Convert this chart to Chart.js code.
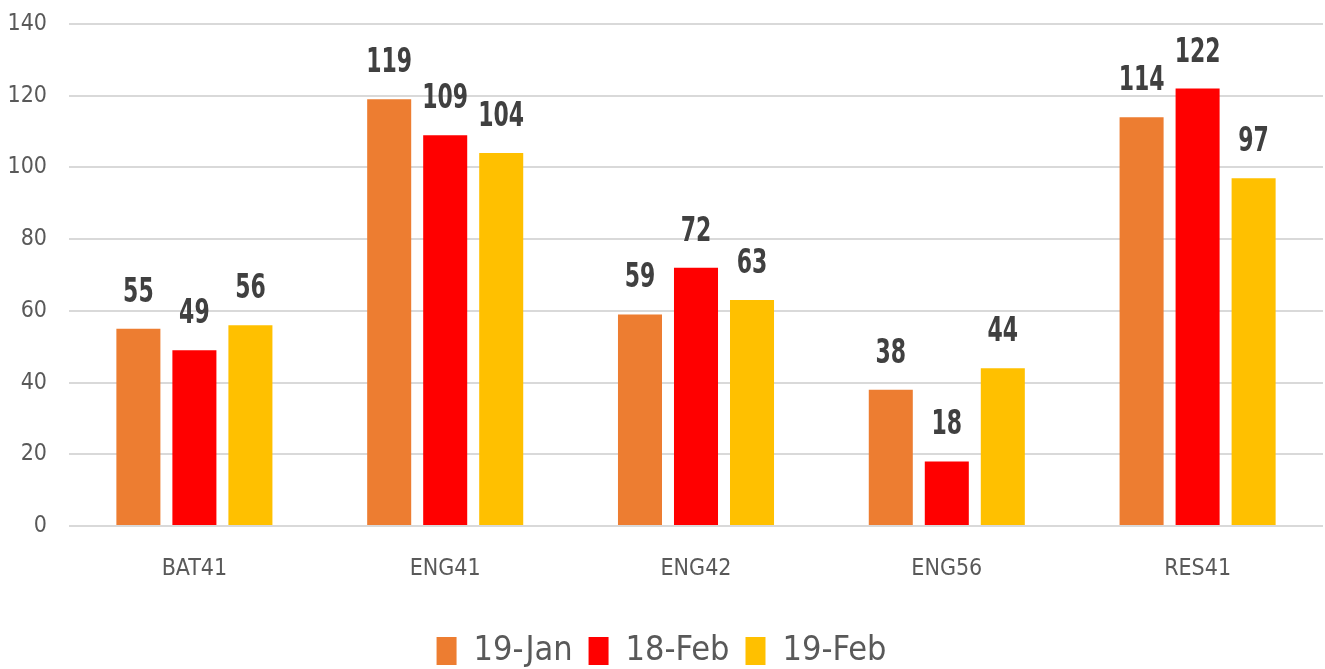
<!DOCTYPE html>
<html>
<head>
<meta charset="utf-8">
<script src="https://cdn.jsdelivr.net/npm/chart.js@4"></script>
<style>
  html, body { margin: 0; padding: 0; background: #fff; overflow: hidden; }
  canvas { display: block; }
</style>
</head>
<body>
<canvas id="chart" width="1325" height="678"></canvas>
<script>
// categories + series
const categories = ["BAT41", "ENG41", "ENG42", "ENG56", "RES41"];
const jan19 = [55, 119, 59, 38, 114];
const feb18 = [49, 109, 72, 18, 122];
const feb19 = [56, 104, 63, 44, 97];
const seriesNames = ["19-Jan", "18-Feb", "19-Feb"];
const seriesColors = ["#ED7D31", "#FF0000", "#FFC000"];

const FONT = "'DejaVu Sans Condensed', 'DejaVu Sans', sans-serif";

// value labels above each bar (squeezed a bit to look like a narrow font)
const barLabels = {
  id: "barLabels",
  afterDatasetsDraw(chart) {
    const ctx = chart.ctx;
    chart.data.datasets.forEach((ds, i) => {
      chart.getDatasetMeta(i).data.forEach((bar, j) => {
        ctx.save();
        ctx.translate(bar.x, bar.y - 27);
        ctx.scale(0.74, 1);
        ctx.font = "bold 33px " + FONT;
        ctx.fillStyle = "#404040";
        ctx.textAlign = "center";
        ctx.textBaseline = "alphabetic";
        ctx.fillText(String(ds.data[j]), 0, 0);
        ctx.restore();
      });
    });
  }
};

const allSeries = [jan19, feb18, feb19];

new Chart(document.getElementById("chart"), {
  type: "bar",
  data: {
    labels: categories,
    datasets: allSeries.map((d, i) => ({
      label: seriesNames[i],
      data: d,
      backgroundColor: seriesColors[i],
      categoryPercentage: 0.67,
      barPercentage: 0.786
    }))
  },
  options: {
    responsive: false,
    animation: false,
    layout: { padding: { top: 24, right: 2, left: 0, bottom: 0 } },
    plugins: {
      tooltip: { enabled: false },
      legend: {
        position: "bottom",
        labels: {
          color: "#595959",
          font: { family: FONT, size: 34 },
          boxWidth: 20,
          boxHeight: 28,
          padding: 16
        }
      }
    },
    scales: {
      x: {
        grid: { display: false, drawTicks: false },
        border: { display: false },
        ticks: { color: "#595959", font: { family: FONT, size: 23 }, padding: 29 },
        afterFit: (s) => { s.height = 92; }
      },
      y: {
        min: 0,
        max: 140,
        ticks: { stepSize: 20, color: "#595959", font: { family: FONT, size: 23 }, padding: 22 },
        grid: { color: "#D9D9D9", lineWidth: 2, drawTicks: false },
        border: { display: false },
        afterFit: (s) => { s.width = 69; s.paddingTop = 0; s.paddingBottom = 0; }
      }
    }
  },
  plugins: [barLabels]
});
</script>
</body>
</html>
